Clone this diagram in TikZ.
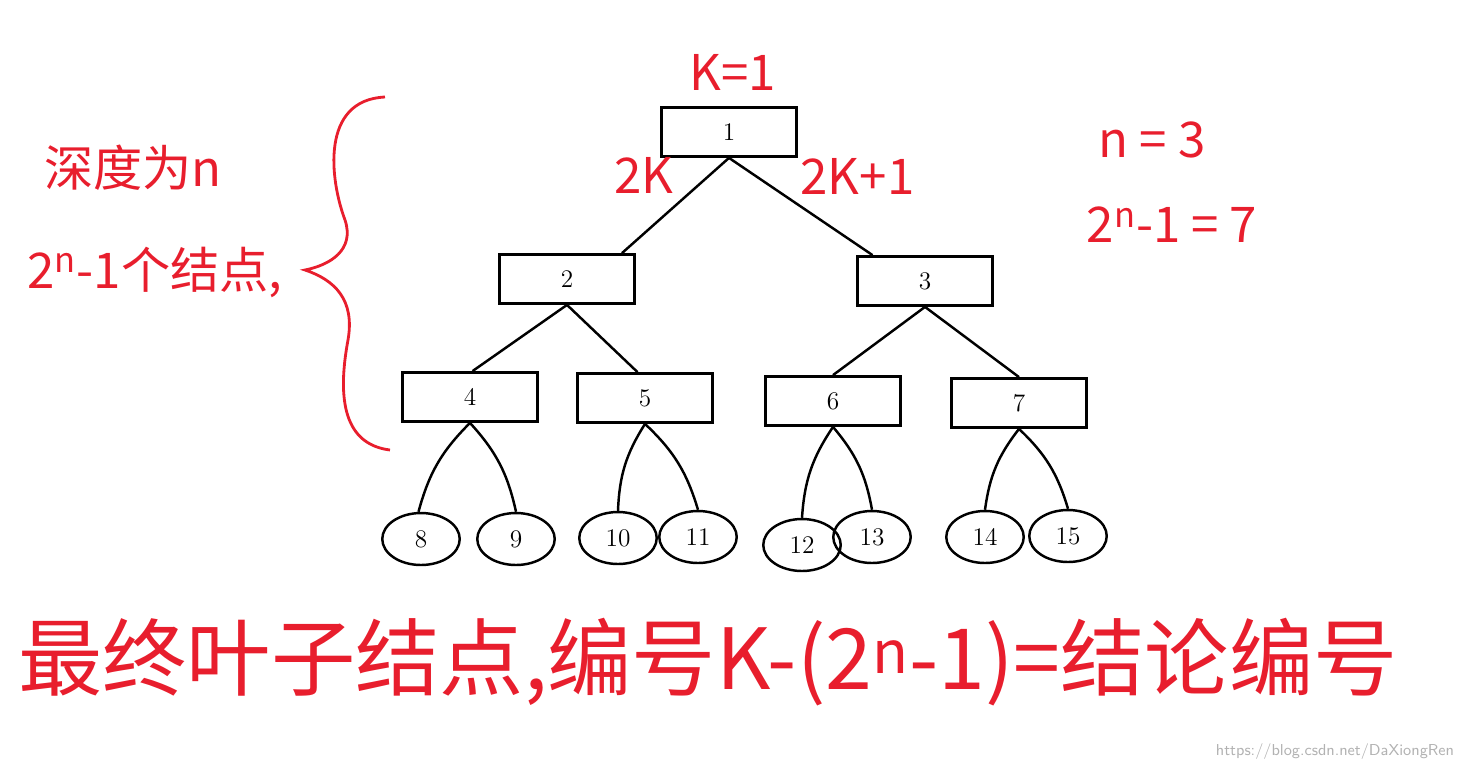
\documentclass[tikz,border=0pt]{standalone}
\usepackage{fontspec}
\newfontfamily\cjk{Noto Sans CJK SC}
\usetikzlibrary{shapes.geometric}
\definecolor{pen}{RGB}{232,30,45}
\tikzset{
  box/.style={draw,line width=1.6pt,minimum width=2.7cm,minimum height=0.98cm,font=\Large},
  leaf/.style={draw,ellipse,line width=1.4pt,minimum width=1.55cm,minimum height=1.04cm,inner sep=0pt,font=\Large},
  edge/.style={line width=1.4pt},
  note/.style={text=pen,font=\cjk\fontsize{28}{32}\selectfont}
}
\begin{document}
\begin{tikzpicture}[x=0.02cm,y=-0.02cm]
\useasboundingbox (0,0) rectangle (1457,772);
% inner nodes
\node[box] (n1) at (729,132) {1};
\node[box] (n2) at (567,279) {2};
\node[box] (n3) at (925,281) {3};
\node[box] (n4) at (470,397) {4};
\node[box] (n5) at (645,398) {5};
\node[box] (n6) at (833,401) {6};
\node[box] (n7) at (1019,403) {7};
% leaves
\node[leaf] (n8) at (421,539) {8};
\node[leaf] (n9) at (516,539) {9};
\node[leaf] (n10) at (618,538) {10};
\node[leaf] (n11) at (698,537) {11};
\node[leaf] (n12) at (802,545) {12};
\node[leaf] (n13) at (872,537) {13};
\node[leaf] (n14) at (985,537) {14};
\node[leaf] (n15) at (1068,536) {15};
% edges
\draw[edge] (n1.south) -- ([xshift=1.1cm]n2.north) node[pos=0.45,above left,note] {2K};
\draw[edge] (n1.south) -- ([xshift=-1.05cm]n3.north) node[pos=0.45,above right,note] {2K+1};
\draw[edge] (n2.south) -- ([xshift=0.05cm]n4.north);
\draw[edge] (n2.south) -- ([xshift=-0.15cm]n5.north);
\draw[edge] (n3.south) -- (n6.north);
\draw[edge] (n3.south) -- (n7.north);
\draw[edge] (n4.south) to[bend right=15] ([xshift=-0.05cm]n8.north);
\draw[edge] (n4.south) to[bend left=15] (n9.north);
\draw[edge] (n5.south) to[bend right=15] (n10.north);
\draw[edge] (n5.south) to[bend left=15] (n11.north);
\draw[edge] (n6.south) to[bend right=15] (n12.north);
\draw[edge] (n6.south) to[bend left=15] (n13.north);
\draw[edge] (n7.south) to[bend right=15] (n14.north);
\draw[edge] (n7.south) to[bend left=15] (n15.north);
% notes
\node[note] (k1) at (733,72) {K=1};
\node[note] (deep) at (133,168) {深度为n};
\node[note] (cnt) at (155,272) {2\textsuperscript{n}-1个结点,};
\node[note] (nn) at (1152,140) {n = 3};
\node[note] (sum) at (1172,225) {2\textsuperscript{n}-1 = 7};
\draw[pen,line width=1.6pt] (385,97) .. controls (320,100) and (330,180) .. (345,220)
  .. controls (355,250) and (330,265) .. (305,270)
  .. controls (335,280) and (355,300) .. (348,340)
  .. controls (335,410) and (350,445) .. (390,450);
\node[note,font=\cjk\fontsize{48}{52}\selectfont] (bottom) at (708,662) {最终叶子结点,编号K-(2\textsuperscript{n}-1)=结论编号};
\node[text=black!30,font=\sffamily\small] (mark) at (1335,752) {https://blog.csdn.net/DaXiongRen};
\end{tikzpicture}
\end{document}
